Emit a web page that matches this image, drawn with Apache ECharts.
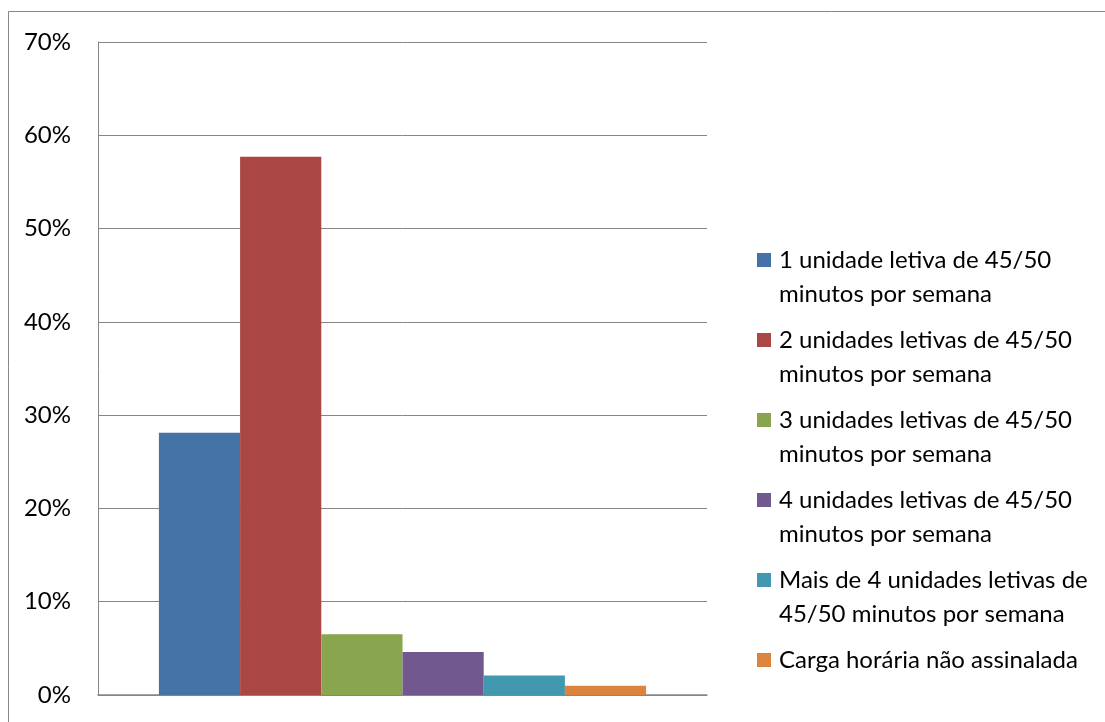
<!DOCTYPE html>
<html>
<head>
<meta charset="utf-8">
<script src="https://cdn.jsdelivr.net/npm/echarts@6/dist/echarts.min.js"></script>
<style>
html,body{margin:0;padding:0;background:#fff;}
#chart{width:1105px;height:722px;}
</style>
</head>
<body>
<div id="chart"></div>
<script>
const seriesNames = [
  '1 unidade letiva de 45/50\nminutos por semana',
  '2 unidades letivas de 45/50\nminutos por semana',
  '3 unidades letivas de 45/50\nminutos por semana',
  '4 unidades letivas de 45/50\nminutos por semana',
  'Mais de 4 unidades letivas de\n45/50 minutos por semana',
  'Carga horária não assinalada\n'
];
const seriesValues = [28.1, 57.7, 6.5, 4.6, 2.1, 1.0];
const seriesColors = ['#4572A7', '#AA4643', '#89A54E', '#71588F', '#4198AF', '#DB843D'];
const yTicks = [0, 10, 20, 30, 40, 50, 60, 70];
const categories = [''];

const FONT = 'Lato';
const chart = echarts.init(document.getElementById('chart'));

const series = seriesNames.map((name, i) => ({
  name: name,
  type: 'bar',
  data: [seriesValues[i]],
  itemStyle: { color: seriesColors[i] },
  barGap: '0%',
  barCategoryGap: '20%',
  animation: false
}));

chart.setOption({
  animation: false,
  backgroundColor: '#fff',
  textStyle: { fontFamily: FONT },
  graphic: [{
    type: 'rect',
    shape: { x: 8.5, y: 11.5, width: 1200, height: 800 },
    style: { fill: 'none', stroke: '#868686', lineWidth: 1 },
    silent: true
  }],
  grid: { left: 98, top: 42, right: 398, bottom: 27, containLabel: false },
  xAxis: {
    type: 'category',
    data: categories,
    axisLine: { show: true, lineStyle: { color: '#868686', width: 1.5 } },
    axisTick: { show: false },
    axisLabel: { show: false }
  },
  yAxis: {
    type: 'value',
    min: yTicks[0],
    max: yTicks[yTicks.length - 1],
    interval: 10,
    axisLine: { show: true, lineStyle: { color: '#868686', width: 1 } },
    axisTick: { show: false },
    splitLine: { show: true, lineStyle: { color: '#868686', width: 1 } },
    axisLabel: {
      formatter: '{value}%',
      color: '#000',
      fontFamily: FONT,
      fontSize: 24,
      margin: 27
    }
  },
  legend: {
    orient: 'vertical',
    left: 757,
    top: 243,
    padding: 0,
    itemGap: 12,
    itemWidth: 14,
    itemHeight: 48,
    icon: 'path://M0,0L14,0L14,14L0,14Z M0,48L0.001,48',
    selectedMode: false,
    textStyle: {
      color: '#000',
      fontFamily: FONT,
      fontSize: 24,
      lineHeight: 34,
      padding: [0, 0, 0, 3]
    },
    data: seriesNames
  },
  series: series
});
</script>
</body>
</html>
